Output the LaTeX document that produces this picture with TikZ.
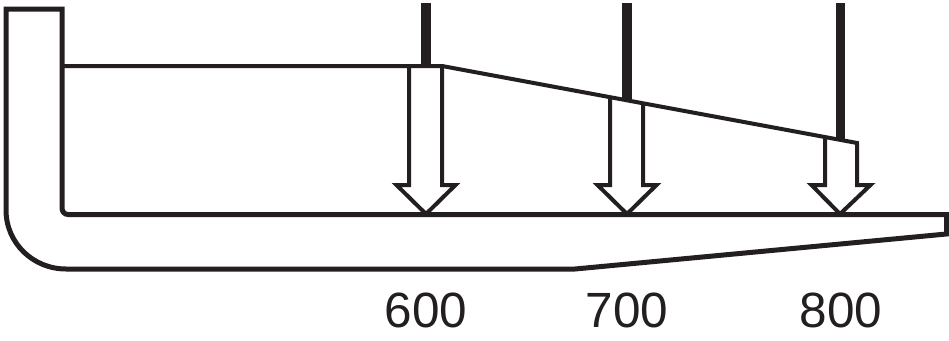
\documentclass[tikz,border=0pt]{standalone}
\usepackage{fontspec}
\setmainfont{Liberation Sans}
\definecolor{ink}{HTML}{231F20}
\tikzset{
  x=1pt,y=-1pt,
  outline/.style={draw=ink,line width=5pt,line join=miter},
  thinline/.style={draw=ink,line width=4pt,line join=miter},
  hollowarrow/.style={draw=ink,fill=white,line width=4pt,line join=miter},
  post/.style={fill=ink,draw=none},
  numlabel/.style={font=\fontsize{49.5pt}{49.5pt}\selectfont,text=ink,inner sep=0pt,anchor=base}
}
\begin{document}
\begin{tikzpicture}
\useasboundingbox (0,0) rectangle (949,340);
% arrows
\draw[hollowarrow] (409,66) -- (409,185) -- (396.5,185) -- (426,214) -- (455.5,185) -- (442,185) -- (442,66);
\draw[hollowarrow] (610,97.2) -- (610,185) -- (597.5,185) -- (627,214) -- (656.5,185) -- (643,185) -- (643,103.3);
\draw[hollowarrow] (825,137) -- (825,185) -- (811.5,185) -- (840,214) -- (870.5,185) -- (857,185) -- (857,143);
% posts
\fill[post] (421,3) rectangle (431,66);
\fill[post] (622,3) rectangle (632,99);
\fill[post] (835.5,3) rectangle (845,140);
% shaft top / sloped line
\draw[thinline] (62,66) -- (442,66) -- (858.7,143.3);
% main outline
\draw[outline] (6,9) -- (62,9) -- (62,208) .. controls (62,211.5) and (64.5,214.5) .. (68,214.5) -- (946.5,214.5) -- (946.5,234) -- (575,269) -- (66,269) .. controls (33,269) and (6,243) .. (6,210) -- cycle;
% labels
\node[numlabel] (a) at (426,327) {600};
\node[numlabel] (b) at (627,327) {700};
\node[numlabel] (c) at (841,327) {800};
\end{tikzpicture}
\end{document}
